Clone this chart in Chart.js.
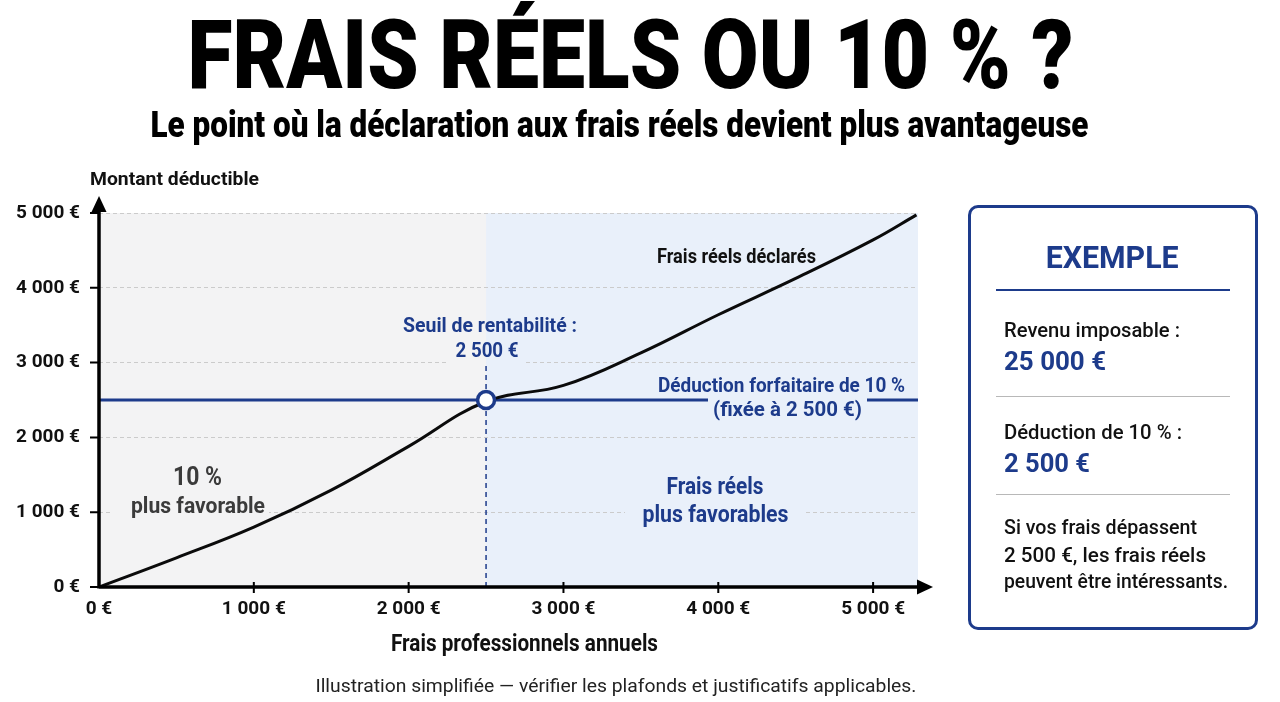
<!DOCTYPE html>
<html lang="fr">
<head>
<meta charset="utf-8">
<title>Frais réels ou 10 % ?</title>
<script src="https://cdn.jsdelivr.net/npm/chart.js@4.4.1/dist/chart.umd.min.js"></script>
<style>
  html, body { margin: 0; padding: 0; background: #fff; }
  body { position: relative; width: 1280px; height: 702px; overflow: hidden; font-family: Roboto, 'Liberation Sans', sans-serif; }
  #fraisChart { position: absolute; left: 0; top: 0; }
  .lbl { position: absolute; white-space: nowrap; line-height: 1; }
  .navy { color: #1d3b8b; }
  .noir { color: #111; }
  #box { position: absolute; left: 968px; top: 205px; width: 290px; height: 425px; box-sizing: border-box; border: 3px solid #1d3b8b; border-radius: 10px; }
  .rule { position: absolute; left: 996px; width: 234px; }
</style>
</head>
<body>
<canvas id="fraisChart" width="1280" height="702"></canvas>

<div class="lbl" data-x="630" data-b="88" data-s="96" data-w="886" data-a="center" style="font-weight:900;color:#000">FRAIS RÉELS OU 10 % ?</div>
<div class="lbl" data-x="619" data-b="137" data-s="36" data-w="938" data-a="center" style="font-weight:900;color:#000">Le point où la déclaration aux frais réels devient plus avantageuse</div>
<div class="lbl" data-x="616" data-b="692" data-s="18" data-w="601" data-a="center" style="font-weight:400;color:#222">Illustration simplifiée — vérifier les plafonds et justificatifs applicables.</div>

<!-- encadré exemple -->
<div id="box"></div>
<div class="rule" style="top:289px;height:2px;background:#1d3b8b"></div>
<div class="rule" style="top:396px;height:1px;background:#b8b8b8"></div>
<div class="rule" style="top:494px;height:1px;background:#b8b8b8"></div>
<div class="lbl navy" data-x="1112" data-b="268" data-s="32" data-w="133" data-a="center" style="font-weight:700">EXEMPLE</div>
<div class="lbl noir" data-x="1004" data-b="338" data-s="21" data-w="176" style="font-weight:500">Revenu imposable :</div>
<div class="lbl navy" data-x="1004" data-b="370" data-s="26" data-w="102" style="font-weight:700">25 000 €</div>
<div class="lbl noir" data-x="1004" data-b="440" data-s="21" data-w="178" style="font-weight:500">Déduction de 10 % :</div>
<div class="lbl navy" data-x="1004" data-b="472" data-s="26" data-w="86" style="font-weight:700">2 500 €</div>
<div class="lbl noir" data-x="1004" data-b="535" data-s="21" data-w="193" style="font-weight:500">Si vos frais dépassent</div>
<div class="lbl noir" data-x="1004" data-b="563" data-s="21" data-w="202" style="font-weight:500">2 500 €, les frais réels</div>
<div class="lbl noir" data-x="1004" data-b="589" data-s="21" data-w="224" style="font-weight:500">peuvent être intéressants.</div>

<script>
  // données
  const fraisX = [0, 500, 1000, 1500, 2000, 2500, 3000, 3500, 4000, 4500, 5000, 5280];
  const fraisReels = [0, 390, 800, 1295, 1880, 2480, 2695, 3130, 3640, 4125, 4640, 4975];
  const seuil = 2500;    // seuil de rentabilité
  const forfait = 2500;  // déduction forfaitaire de 10 %
  const xTicks = [0, 1000, 2000, 3000, 4000, 5000];
  const yTicks = [0, 1000, 2000, 3000, 4000, 5000];
  const xMax = 5290;

  const NAVY = '#1d3b8b';
  const GRIS = '#f3f3f4';
  const BLEU = '#e9f0fa';

  const euro = v => String(v).replace(/\B(?=(\d{3})+(?!\d))/g, ' ') + ' €';

  // textes HTML : placement sur la ligne de base + largeur
  document.querySelectorAll('.lbl').forEach(el => {
    const s = +el.dataset.s;
    el.style.fontSize = s + 'px';
    const w0 = el.getBoundingClientRect().width;
    const sx = el.dataset.w ? +el.dataset.w / w0 : 0.85;
    const a = el.dataset.a || 'left';
    const x = +el.dataset.x;
    el.style.transformOrigin = a === 'center' ? '50% 0' : (a === 'right' ? '100% 0' : '0 0');
    el.style.transform = 'scaleX(' + sx + ')';
    el.style.left = (a === 'center' ? x - w0 / 2 : a === 'right' ? x - w0 : x) + 'px';
    el.style.top = (+el.dataset.b - 0.842 * s) + 'px';
  });

  // texte condensé sur le canvas
  function txt(ctx, s, x, b, size, w, color, align, weight) {
    ctx.save();
    ctx.font = (weight || 700) + ' ' + size + 'px Roboto, sans-serif';
    ctx.fillStyle = color;
    ctx.textBaseline = 'alphabetic';
    const w0 = ctx.measureText(s).width;
    const sx = w ? w / w0 : 0.85;
    let x0 = x;
    if (align === 'center') x0 = x - w0 * sx / 2;
    else if (align === 'right') x0 = x - w0 * sx;
    ctx.translate(x0, b);
    ctx.scale(sx, 1);
    ctx.fillText(s, 0, 0);
    ctx.restore();
  }

  // bouche un morceau de grille avec la couleur de fond de la zone
  function gap(chart, x1, y1, x2, y2) {
    const ctx = chart.ctx;
    const xs = chart.scales.x.getPixelForValue(seuil);
    ctx.save();
    if (x1 < xs) { ctx.fillStyle = GRIS; ctx.fillRect(x1, y1, Math.min(x2, xs) - x1, y2 - y1); }
    if (x2 > xs) { ctx.fillStyle = BLEU; ctx.fillRect(Math.max(x1, xs), y1, x2 - Math.max(x1, xs), y2 - y1); }
    ctx.restore();
  }

  const decor = {
    id: 'decor',
    beforeDraw(chart) {
      const { ctx, chartArea: a } = chart;
      const xs = chart.scales.x.getPixelForValue(seuil);
      ctx.save();
      ctx.fillStyle = GRIS;
      ctx.fillRect(a.left, a.top, xs - a.left, a.bottom - a.top);
      ctx.fillStyle = BLEU;
      ctx.fillRect(xs, a.top, a.right - xs, a.bottom - a.top);
      ctx.restore();
    },
    beforeDatasetsDraw(chart) {
      const { ctx, chartArea: a } = chart;
      const xs = chart.scales.x.getPixelForValue(seuil);
      // trous dans la grille derrière les textes
      gap(chart, 447, 357, 524, 369);
      gap(chart, 113, 505, 269, 516);
      gap(chart, 625, 505, 804, 516);
      // trait vertical pointillé au seuil
      ctx.save();
      ctx.strokeStyle = NAVY;
      ctx.lineWidth = 1.5;
      ctx.setLineDash([5, 4]);
      ctx.beginPath();
      ctx.moveTo(xs, a.bottom);
      ctx.lineTo(xs, 365);
      ctx.stroke();
      ctx.restore();
    },
    afterDatasetsDraw(chart) {
      const { ctx, chartArea: a, scales: { x, y } } = chart;
      const x0 = a.left, y0 = a.bottom;

      // axes avec flèches
      ctx.save();
      ctx.strokeStyle = '#000';
      ctx.fillStyle = '#000';
      ctx.lineWidth = 3.5;
      ctx.beginPath();
      ctx.moveTo(x0, y0);
      ctx.lineTo(922, y0);
      ctx.moveTo(x0, y0 + 1.5);
      ctx.lineTo(x0, 208);
      ctx.stroke();
      ctx.beginPath();
      ctx.moveTo(933, y0); ctx.lineTo(917, y0 - 7.5); ctx.lineTo(917, y0 + 7.5); ctx.closePath();
      ctx.fill();
      ctx.beginPath();
      ctx.moveTo(x0, 196); ctx.lineTo(x0 - 7.5, 212); ctx.lineTo(x0 + 7.5, 212); ctx.closePath();
      ctx.fill();
      // graduations
      ctx.lineWidth = 2;
      ctx.beginPath();
      xTicks.forEach(v => {
        if (v === 0) return;
        const px = x.getPixelForValue(v);
        ctx.moveTo(px, y0 - 5); ctx.lineTo(px, y0 + 6);
      });
      yTicks.forEach(v => {
        const py = y.getPixelForValue(v);
        ctx.moveTo(x0 - 9, py); ctx.lineTo(x0, py);
      });
      ctx.stroke();
      ctx.restore();

      // libellé sur la droite forfaitaire
      gap(chart, 708, 397, 867, 409);

      txt(ctx, 'Montant déductible', 90, 185, 19, 169, '#111', 'left');
      txt(ctx, 'Frais professionnels annuels', 524.5, 651, 23, 267, '#111', 'center');
      txt(ctx, 'Seuil de rentabilité :', 490, 332, 21, 174, NAVY, 'center');
      txt(ctx, euro(seuil), 487, 357, 21, 63, NAVY, 'center');
      txt(ctx, 'Déduction forfaitaire de 10 %', 905, 392, 21, 247, NAVY, 'right');
      txt(ctx, '(fixée à ' + euro(forfait) + ')', 787.5, 416, 21, 149, NAVY, 'center');
      txt(ctx, 'Frais réels déclarés', 657, 263, 21, 159, '#111', 'left');
      txt(ctx, '10 %', 197.5, 485, 25, 49, '#3b3b3b', 'center');
      txt(ctx, 'plus favorable', 198, 513, 22, 134, '#3b3b3b', 'center');
      txt(ctx, 'Frais réels', 715, 494, 23, 97, NAVY, 'center');
      txt(ctx, 'plus favorables', 715.5, 521.5, 23, 146, NAVY, 'center');
    }
  };

  const ctx = document.getElementById('fraisChart').getContext('2d');
  const fraisChart = new Chart(ctx, {
    type: 'line',
    data: {
      datasets: [{
        label: 'Seuil',
        data: [{ x: seuil, y: forfait }],
        showLine: false,
        pointRadius: 8.5,
        pointBackgroundColor: '#fff',
        pointBorderColor: NAVY,
        pointBorderWidth: 3.5,
        order: 0
      }, {
        label: 'Frais réels déclarés',
        data: fraisX.map((v, i) => ({ x: v, y: fraisReels[i] })),
        borderColor: '#0b0b0b',
        borderWidth: 3,
        pointRadius: 0,
        tension: 0.4,
        order: 1
      }, {
        label: 'Déduction forfaitaire de 10 %',
        data: [{ x: 0, y: forfait }, { x: xMax, y: forfait }],
        borderColor: NAVY,
        borderWidth: 3,
        pointRadius: 0,
        order: 2
      }]
    },
    options: {
      responsive: false,
      animation: false,
      events: [],
      layout: { padding: { left: 0, top: 213, right: 362, bottom: 75 } },
      plugins: { legend: { display: false }, tooltip: { enabled: false } },
      scales: {
        x: {
          type: 'linear',
          min: 0,
          max: xMax,
          afterBuildTicks: s => { s.ticks = xTicks.map(v => ({ value: v })); },
          afterFit: s => { s.height = 40; },
          grid: { display: false, drawTicks: false },
          border: { display: false },
          ticks: {
            padding: 11,
            color: '#111',
            maxRotation: 0,
            autoSkip: false,
            font: { family: 'Roboto', size: 19, weight: 'bold' },
            callback: v => euro(v)
          }
        },
        y: {
          min: 0,
          max: 5000,
          afterBuildTicks: s => { s.ticks = yTicks.map(v => ({ value: v })); },
          afterFit: s => { s.width = 99; },
          grid: { color: '#cbcbcb', lineWidth: 1, drawTicks: false },
          border: { display: false, dash: [4, 3] },
          ticks: {
            padding: 19,
            color: '#111',
            font: { family: 'Roboto', size: 19, weight: 'bold' },
            callback: v => euro(v)
          }
        }
      }
    },
    plugins: [decor]
  });
</script>
</body>
</html>
